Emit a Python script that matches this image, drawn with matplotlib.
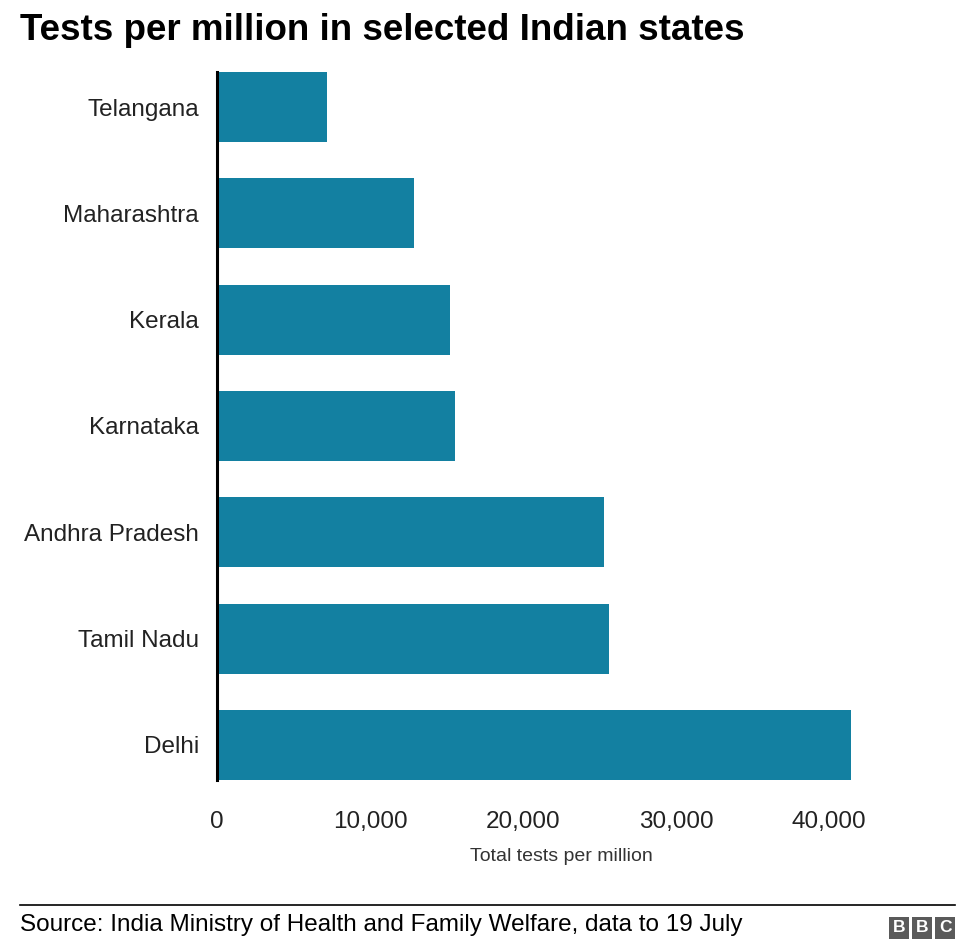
import matplotlib.pyplot as plt
from matplotlib.patches import Rectangle
from matplotlib.lines import Line2D

plt.rcParams['font.family'] = ['Liberation Sans', 'DejaVu Sans']

states = ['Telangana', 'Maharashtra', 'Kerala', 'Karnataka',
          'Andhra Pradesh', 'Tamil Nadu', 'Delhi']
tests_per_million = [7170, 12880, 15230, 15560, 25270, 25620, 41440]
xticks = [0, 10000, 20000, 30000, 40000]

fig = plt.figure(figsize=(9.76, 9.5), dpi=100)
ax = fig.add_axes([217 / 976, 1 - 780 / 950, (905.5 - 217) / 976, (780 - 72) / 950])

ypos = list(range(len(states)))
ax.barh(ypos, tests_per_million, height=0.66, color='#1380A1')
ax.set_ylim(len(states) - 0.67, -0.33)
ax.set_xlim(0, 45000)

ax.set_yticks(ypos)
ax.set_yticklabels(states, fontsize=17.5, color='#222222')
ax.set_xticks(xticks)
ax.set_xticklabels([f'{v:,}' for v in xticks], fontsize=17.5, color='#222222')
ax.tick_params(axis='both', length=0)
ax.tick_params(axis='y', pad=13)
ax.tick_params(axis='x', pad=22)
ax.set_xlabel('Total tests per million', fontsize=14, color='#333333', labelpad=11)

for s in ['top', 'right', 'bottom']:
    ax.spines[s].set_visible(False)
ax.spines['left'].set_linewidth(2.2)
ax.spines['left'].set_color('#000000')

# title
fig.text(20 / 976, 1 - 40 / 950, 'Tests per million in selected Indian states',
         fontsize=26.5, fontweight='bold', color='#000000', ha='left', va='baseline')

# footer line and source
fig.add_artist(Line2D([20 / 976, 955 / 976], [1 - 905 / 950, 1 - 905 / 950],
                      color='#000000', linewidth=1.2))
fig.text(20 / 976, 1 - 931 / 950,
         'Source: India Ministry of Health and Family Welfare, data to 19 July',
         fontsize=17.5, color='#000000', ha='left', va='baseline')

# BBC logo
for i, letter in enumerate('BBC'):
    x0 = 889 + i * 23
    fig.add_artist(Rectangle((x0 / 976, 1 - 939 / 950), 20 / 976, 22 / 950,
                             facecolor='#5a5a5a', edgecolor='none',
                             transform=fig.transFigure))
    fig.text((x0 + 10) / 976, 1 - 928 / 950, letter, fontsize=12.5,
             fontweight='bold', color='white', ha='center', va='center')

fig.savefig('out.png', dpi=100)
